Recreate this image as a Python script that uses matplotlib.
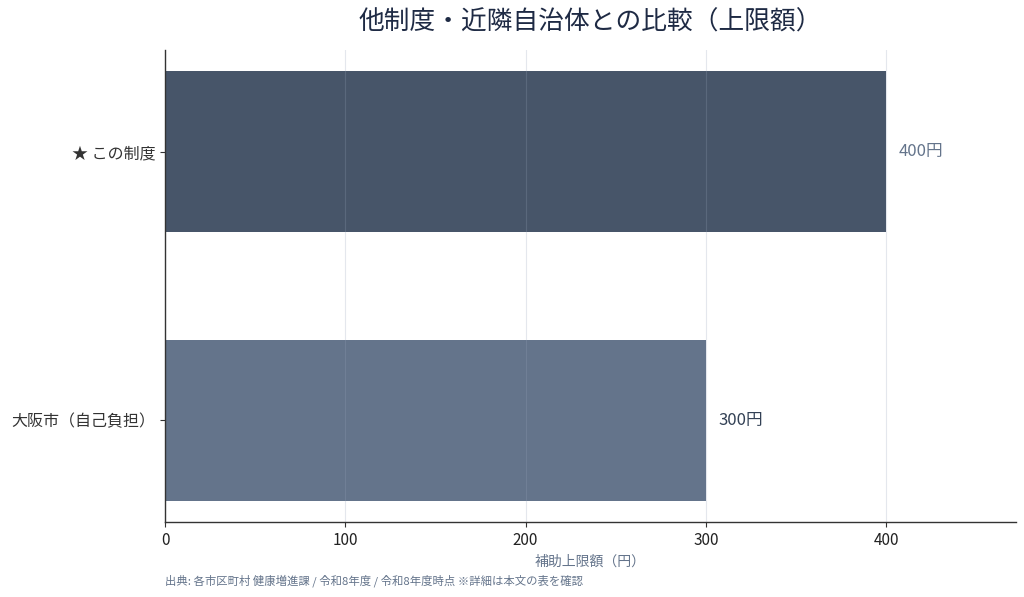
import matplotlib

matplotlib.use("Agg")

import matplotlib.pyplot as plt

plt.rcParams['font.family'] = ['Noto Sans CJK JP', 'DejaVu Sans']

# data
labels = ["大阪市（自己負担）", "★ この制度"]
values = [300, 400]
value_text = ["300円", "400円"]
bar_colors = ["#64748b", "#475569"]
text_colors = ["#334155", "#64748b"]
xticks = [0, 100, 200, 300, 400]

fig = plt.figure(figsize=(10.24, 5.97), dpi=100)
ax = fig.add_axes([165 / 1024, 1 - 522 / 597, (1016 - 165) / 1024, (522 - 50) / 597])

ypos = list(range(len(labels)))
ax.barh(ypos, values, height=0.6, color=bar_colors, zorder=1)
ax.set_yticks(ypos)
ax.set_yticklabels(labels, fontsize=11.5, color="#111111")
ax.set_xticks(xticks)
ax.set_xlim(0, max(values) * 1.18)
ax.tick_params(axis="x", labelsize=11, colors="#333333", labelcolor="#222222")
ax.tick_params(axis="y", colors="#333333")

ax.grid(axis="x", color="#94a3b8", linewidth=0.8, alpha=0.25, zorder=2)
ax.set_axisbelow(False)
ax.yaxis.grid(False)

for sp in ["top", "right"]:
    ax.spines[sp].set_visible(False)
for sp in ["left", "bottom"]:
    ax.spines[sp].set_color("#333333")
    ax.spines[sp].set_linewidth(1.0)
    ax.spines[sp].set_zorder(5)

for y, v, t, c in zip(ypos, values, value_text, text_colors):
    ax.text(v + 7, y, t, va="center", ha="left", fontsize=12, color=c)

ax.set_xlabel("補助上限額（円）", fontsize=10, color="#64748b", labelpad=4)

fig.text(590 / 1024, 1 - 23 / 597, "他制度・近隣自治体との比較（上限額）",
         ha="center", va="center", fontsize=18.5, color="#1e2a44")
fig.text(165 / 1024, 1 - 581 / 597,
         "出典: 各市区町村 健康増進課 / 令和8年度 / 令和8年度時点 ※詳細は本文の表を確認",
         ha="left", va="center", fontsize=8.2, color="#64748b")

fig.savefig("out.png", dpi=100)
